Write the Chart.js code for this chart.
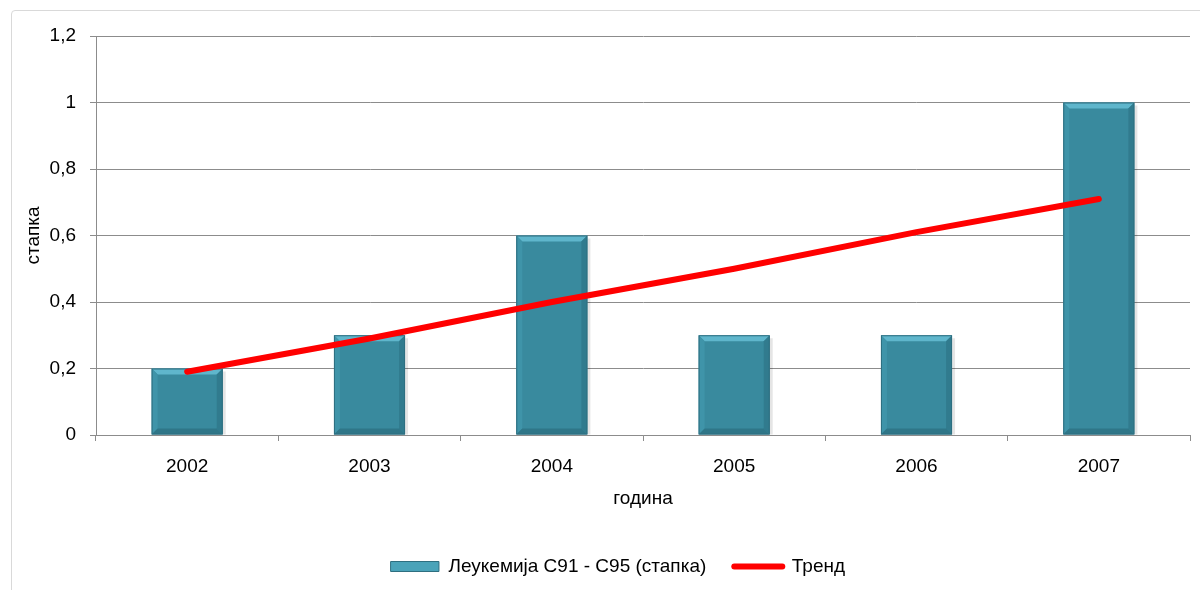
<!DOCTYPE html>
<html>
<head>
<meta charset="utf-8">
<script src="https://cdn.jsdelivr.net/npm/chart.js@4/dist/chart.umd.min.js"></script>
<style>
    html, body { margin: 0; padding: 0; background: #fff; overflow: hidden; }
    #wrap { position: relative; width: 1200px; height: 590px; }
    #frame { position: absolute; left: 11px; top: 10px; width: 1200px; height: 600px; border: 1px solid #d9d9d9; border-radius: 4px; }
    canvas { position: absolute; left: 0; top: 0; }
</style>
</head>
<body>
<div id="wrap">
    <div id="frame"></div>
    <canvas id="chart" width="1200" height="590"></canvas>
</div>
<script>
var years = ['2002', '2003', '2004', '2005', '2006', '2007'];
var rates = [0.2, 0.3, 0.6, 0.3, 0.3, 1.0];
var trend = [0.19, 0.29, 0.40, 0.50, 0.61, 0.71];
var barLabel = 'Леукемија C91 - C95 (стапка)';
var trendLabel = 'Тренд';
var yTitle = 'стапка';
var xTitle = 'година';

var FONT = "'Liberation Sans', Arial, sans-serif";
var FS = 19;

// bevel look of the excel bars
var bevelPlugin = {
    id: 'bevel',
    afterDatasetDraw: function(chart, args) {
        if (args.index !== 0) return;
        var ctx = chart.ctx;
        args.meta.data.forEach(function(bar) {
            var p = bar.getProps(['x', 'y', 'base', 'width'], true);
            var l = p.x - p.width / 2, r = p.x + p.width / 2, t = p.y, b = p.base;
            var d = 6;
            ctx.save();
            // shadow
            ctx.fillStyle = 'rgba(0,0,0,0.10)';
            ctx.fillRect(r, t + 3, 3, b - t - 3);
            // top
            ctx.fillStyle = '#5fb6cc';
            ctx.beginPath(); ctx.moveTo(l, t); ctx.lineTo(r, t); ctx.lineTo(r - d, t + d); ctx.lineTo(l + d, t + d); ctx.closePath(); ctx.fill();
            // left
            ctx.fillStyle = '#3f94a9';
            ctx.beginPath(); ctx.moveTo(l, t); ctx.lineTo(l + d, t + d); ctx.lineTo(l + d, b - d); ctx.lineTo(l, b); ctx.closePath(); ctx.fill();
            // right
            ctx.fillStyle = '#317b8e';
            ctx.beginPath(); ctx.moveTo(r, t); ctx.lineTo(r - d, t + d); ctx.lineTo(r - d, b - d); ctx.lineTo(r, b); ctx.closePath(); ctx.fill();
            // bottom
            ctx.fillStyle = '#2f7688';
            ctx.beginPath(); ctx.moveTo(l, b); ctx.lineTo(l + d, b - d); ctx.lineTo(r - d, b - d); ctx.lineTo(r, b); ctx.closePath(); ctx.fill();
            ctx.strokeStyle = '#2e6f80';
            ctx.lineWidth = 1;
            ctx.strokeRect(l + 0.5, t + 0.5, p.width - 1, b - t - 1);
            ctx.restore();
        });
    }
};

var ctx = document.getElementById('chart').getContext('2d');
var chart = new Chart(ctx, {
    type: 'bar',
    data: {
        labels: years,
        datasets: [{
            type: 'bar',
            label: barLabel,
            data: rates,
            backgroundColor: '#398a9e',
            borderColor: '#2e6f80',
            borderWidth: 1,
            categoryPercentage: 1,
            barPercentage: 0.39,
            order: 1
        }, {
            type: 'line',
            label: trendLabel,
            data: trend,
            borderColor: '#ff0000',
            backgroundColor: '#ff0000',
            borderWidth: 6,
            borderCapStyle: 'round',
            pointRadius: 0,
            tension: 0,
            order: 0
        }]
    },
    options: {
        responsive: false,
        animation: false,
        layout: { padding: { left: 46, top: 36, right: 10, bottom: 4 } },
        scales: {
            x: {
                grid: {
                    drawOnChartArea: false,
                    drawTicks: true,
                    tickLength: 6,
                    color: '#8c8c8c'
                },
                border: { color: '#8c8c8c' },
                ticks: { color: '#000', padding: 14, font: { family: FONT, size: FS } },
                title: { display: true, text: xTitle, color: '#000', padding: { top: 0, bottom: 19 }, font: { family: FONT, size: FS } },
                afterFit: function(scale) { scale.height = 94; }
            },
            y: {
                min: 0,
                max: 1.2,
                ticks: {
                    stepSize: 0.2,
                    color: '#000',
                    padding: 14,
                    font: { family: FONT, size: FS },
                    callback: function(v) { return String(Math.round(v * 10) / 10).replace('.', ','); }
                },
                grid: { color: '#8c8c8c', tickLength: 6 },
                border: { color: '#8c8c8c' },
                title: { display: true, text: yTitle, color: '#000', padding: { top: -24, bottom: 0 }, font: { family: FONT, size: FS } },
                afterFit: function(scale) { scale.width = 50; }
            }
        },
        plugins: {
            tooltip: { enabled: false },
            legend: {
                position: 'bottom',
                labels: {
                    color: '#000',
                    font: { family: FONT, size: FS },
                    usePointStyle: true,
                    pointStyleWidth: 48,
                    boxHeight: 10,
                    padding: 28,
                    sort: function(a, b) { return a.datasetIndex - b.datasetIndex; },
                    generateLabels: function(chart) {
                        return chart.data.datasets.map(function(ds, i) {
                            return {
                                text: ds.label,
                                datasetIndex: i,
                                fillStyle: ds.type === 'line' ? '#ff0000' : '#4aa3b9',
                                strokeStyle: ds.type === 'line' ? '#ff0000' : '#2e6f80',
                                lineWidth: ds.type === 'line' ? 6 : 1,
                                lineCap: 'round',
                                pointStyle: ds.type === 'line' ? 'line' : 'rect',
                                fontColor: '#000'
                            };
                        });
                    }
                }
            }
        }
    },
    plugins: [bevelPlugin]
});
</script>
</body>
</html>
